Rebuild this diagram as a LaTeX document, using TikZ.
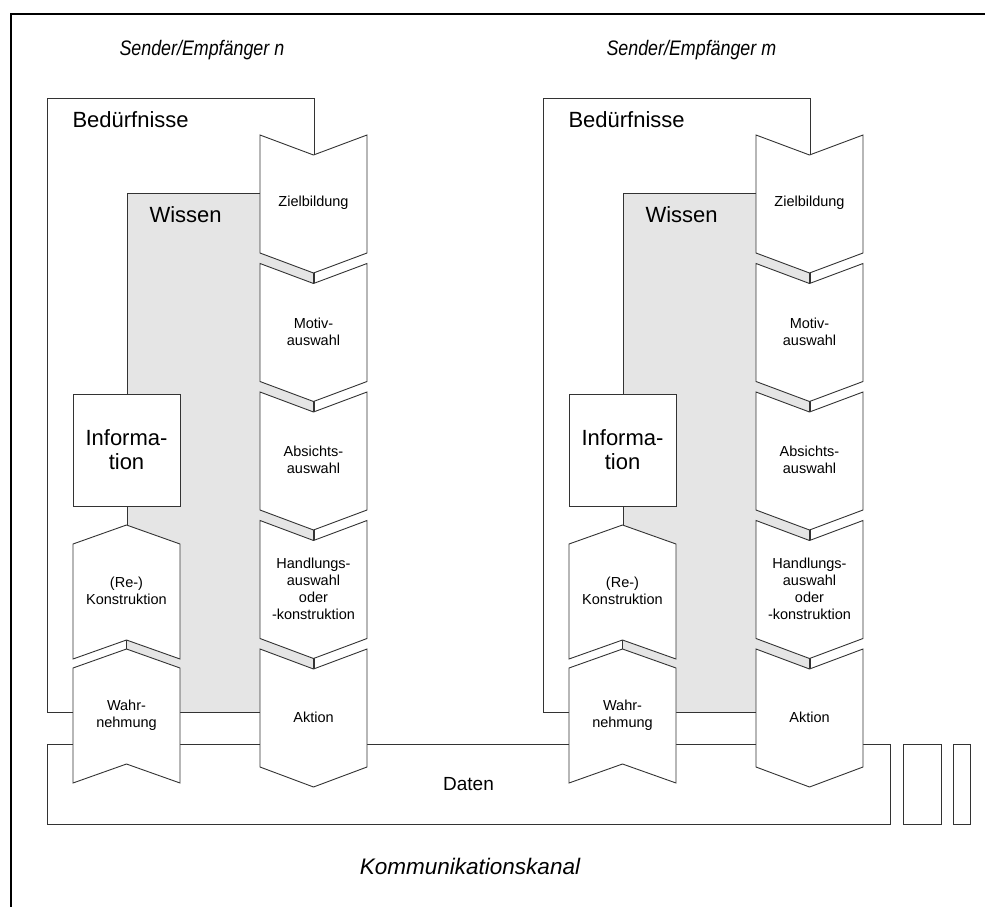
\documentclass[tikz,border=0pt]{standalone}
\usepackage{fontspec}
\setmainfont{Liberation Sans}
\tikzset{
  linie/.style={draw=black!80,line width=0.9pt},
  schatten/.style={fill=gray!20},
  pfeil/.style={linie,fill=white},
  klein/.style={font=\fontsize{14.5}{17}\selectfont,align=center},
  gross/.style={font=\fontsize{22}{24}\selectfont,align=center},
  titel/.style={font=\fontsize{21}{24}\selectfont\itshape}
}
\newcommand{\chevab}[4]{%
  \draw[pfeil] (#1,#2) -- (#1+53.5,#2+20) -- (#1+107,#2) -- (#1+107,#2+118)
    -- (#1+53.5,#2+138) -- (#1,#2+118) -- cycle;
  \node[klein] (#3) at (#1+53.5,#2+68) {#4};}
\newcommand{\chevauf}[4]{%
  \draw[pfeil] (#1+53.5,#2) -- (#1+107,#2+19) -- (#1+107,#2+134)
    -- (#1+53.5,#2+115) -- (#1,#2+134) -- (#1,#2+19) -- cycle;
  \node[klein] (#3) at (#1+53.5,#2+66) {#4};}
\newcommand{\bandab}[2]{%
  \fill[schatten] (#1,#2+118) -- (#1+53.5,#2+138) -- (#1+53.5,#2+148.5) -- (#1,#2+128.5) -- cycle;
  \draw[linie] (#1+53.5,#2+138) -- (#1+53.5,#2+148.5);}
\newcommand{\bandauf}[2]{%
  \fill[schatten] (#1+53.5,#2+115) -- (#1+107,#2+134) -- (#1+107,#2+143) -- (#1+53.5,#2+124) -- cycle;
  \draw[linie] (#1+53.5,#2+115) -- (#1+53.5,#2+124);}
\newcommand{\gruppe}[2]{%
  \begin{scope}[xshift=#1pt]
  \draw[linie] (47,98) rectangle (314,712);
  \node[gross,anchor=west] (beduerf#2) at (69,120) {Bedürfnisse};
  \filldraw[linie,schatten] (127,193) rectangle (260,712);
  \node[gross,anchor=west] (wissen#2) at (146,215) {Wissen};
  \bandab{260}{135} \bandab{260}{263.5} \bandab{260}{392} \bandab{260}{520.5}
  \bandauf{73}{525}
  \chevab{260}{135}{ziel#2}{Zielbildung}
  \chevab{260}{263.5}{motiv#2}{Motiv-\\auswahl}
  \chevab{260}{392}{absicht#2}{Absichts-\\auswahl}
  \chevab{260}{520.5}{handlung#2}{Handlungs-\\auswahl\\oder\\-konstruktion}
  \chevab{260}{649}{aktion#2}{Aktion}
  \node[pfeil,gross,minimum width=107pt,minimum height=112pt] (info#2) at (126.5,450) {Informa-\\tion};
  \chevauf{73}{525}{konstr#2}{(Re-)\\Konstruktion}
  \chevauf{73}{649}{wahr#2}{Wahr-\\nehmung}
  \end{scope}}
\begin{document}
\begin{tikzpicture}[x=1pt,y=-1pt]
\useasboundingbox (0,0) rectangle (985,907);
\draw[line width=2.4pt] (11,907) -- (11,14) -- (985,14);
\node[titel,anchor=west] (sender) at (116,50) {\scalebox{0.85}[1]{Sender/Empfänger n}};
\node[titel,anchor=west] (empf) at (603,50) {\scalebox{0.85}[1]{Sender/Empfänger m}};
\node[titel,font=\fontsize{22.5}{26}\selectfont\itshape] (kanal) at (470,866) {Kommunikationskanal};
\node[linie,minimum width=843pt,minimum height=80pt,font=\fontsize{19}{22}\selectfont] (daten) at (468.5,784.5) {Daten};
\node[linie,minimum width=38pt,minimum height=80pt] (rest1) at (922,784.5) {};
\node[linie,minimum width=17pt,minimum height=80pt] (rest2) at (961.5,784.5) {};
\gruppe{0}{n}
\gruppe{496}{m}
\end{tikzpicture}
\end{document}
